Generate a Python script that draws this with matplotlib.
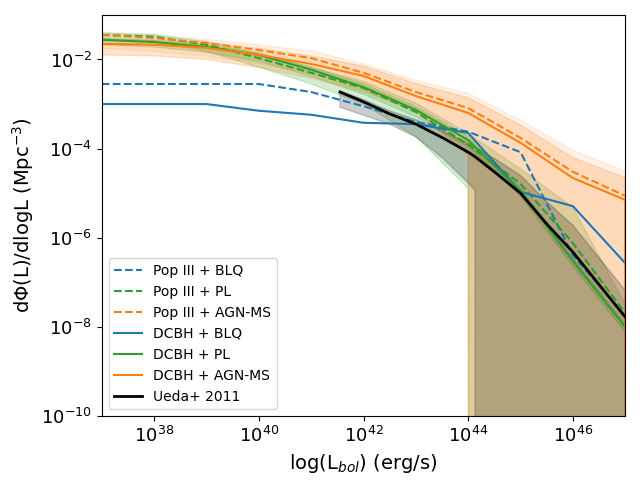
import numpy as np
import matplotlib
matplotlib.use("Agg")
import matplotlib.pyplot as plt
from matplotlib.ticker import NullLocator

# log10 of luminosity grid used by the models
logL = [37, 38, 39, 40, 41, 42, 43, 44, 45, 46, 47]
logL_ext = [37, 38, 39, 40, 41, 42, 43, 44, 45, 46, 47, 48]
NO = -np.inf  # band reaches zero

# log10 of dPhi/dlogL for each model
popIII_blq = [-2.55, -2.55, -2.55, -2.55, -2.73, -3.05, -3.40, -3.62, -4.08, -6.39, -7.75]
popIII_pl = [-1.45, -1.49, -1.67, -1.97, -2.30, -2.64, -3.18, -3.91, -4.79, -6.12, -7.69]
popIII_agn = [-1.45, -1.52, -1.63, -1.79, -1.97, -2.30, -2.73, -3.09, -3.76, -4.52, -5.06]
dcbh_blq = [-3.0, -3.0, -3.0, -3.15, -3.24, -3.42, -3.45, -3.65, -4.97, -5.29, -6.57]
dcbh_pl = [-1.56, -1.61, -1.72, -1.90, -2.23, -2.62, -3.13, -3.81, -4.95, -6.52, -8.0]
dcbh_agn = [-1.65, -1.67, -1.74, -1.90, -2.10, -2.37, -2.82, -3.20, -3.87, -4.66, -5.15, NO]

# scatter bands (log10)
popIII_pl_hi = [-1.40, -1.44, -1.60, -1.87, -2.18, -2.49, -2.98, -3.66, -4.45, -5.32, -7.49]
popIII_pl_lo = [-1.55, -1.59, -1.82, -2.17, -2.55, -3.00, -3.73, -4.89, NO, NO, NO]
dcbh_pl_hi = [-1.51, -1.56, -1.66, -1.84, -2.16, -2.54, -3.05, -3.73, -4.88, -6.45, -7.93]
dcbh_pl_lo = [-1.66, -1.71, -1.83, -2.03, -2.37, -2.77, -3.28, -3.95, -5.07, -6.64, -8.12]
popIII_agn_hi = [-1.40, -1.46, -1.55, -1.67, -1.81, -2.10, -2.47, -2.76, -3.36, -4.04, -4.50]
popIII_agn_lo = [-1.75, -1.82, -1.93, -2.09, -2.32, -2.70, -3.18, -4.09, NO, NO, NO]
dcbh_agn_hi = [-1.55, -1.57, -1.62, -1.75, -1.92, -2.15, -2.54, -2.86, -3.47, -4.20, -4.65, NO]
dcbh_agn_lo = [-1.90, -1.92, -2.00, -2.18, -2.42, -2.72, -3.17, -4.15, NO, NO, NO, NO]

# Ueda+ 2011 XLF
ueda_logL = [41.55, 42, 42.5, 43, 43.5, 44, 44.13, 44.5, 45, 45.5, 46, 46.5, 47]
ueda = [-2.73, -2.95, -3.22, -3.45, -3.75, -4.08, -4.18, -4.52, -5.0, -5.69, -6.32, -7.05, -7.78]
ueda_hi = [-2.70, -2.90, -3.15, -3.35, -3.60, -3.88, -3.96, -4.22, -4.60, -5.19, -5.72, -6.45, -7.18]
ueda_lo = [-3.07, -3.25, -3.45, -3.74, -4.20, -4.77, -4.93, NO, NO, NO, NO, NO, NO]

xticks = [38, 40, 42, 44, 46]


def p(a):
    return np.power(10.0, np.array(a, dtype=float))


fig, ax = plt.subplots(figsize=(6.4, 4.8))
fig.subplots_adjust(left=0.159, right=0.977, top=0.969, bottom=0.133)

ax.fill_between(p(logL), p(popIII_pl_lo), p(popIII_pl_hi), color='C2', alpha=0.2)
ax.fill_between(p(logL), p(popIII_agn_lo), p(popIII_agn_hi), color='C1', alpha=0.1)
ax.fill_between(p(logL), p(dcbh_pl_lo), p(dcbh_pl_hi), color='C2', alpha=0.2)
ax.fill_between(p(logL_ext), p(dcbh_agn_lo), p(dcbh_agn_hi), color='C1', alpha=0.2)
ax.fill_between(p(ueda_logL), p(ueda_lo), p(ueda_hi), color='k', alpha=0.2)

ax.plot(p(logL), p(popIII_blq), '--', color='C0', label='Pop III + BLQ')
ax.plot(p(logL), p(popIII_pl), '--', color='C2', label='Pop III + PL')
ax.plot(p(logL), p(popIII_agn), '--', color='C1', label='Pop III + AGN-MS')
ax.plot(p(logL), p(dcbh_blq), '-', color='C0', label='DCBH + BLQ')
ax.plot(p(logL), p(dcbh_pl), '-', color='C2', label='DCBH + PL')
ax.plot(p(logL_ext), p(dcbh_agn), '-', color='C1', label='DCBH + AGN-MS')
ax.plot(p(ueda_logL), p(ueda), '-', color='k', lw=2, label='Ueda+ 2011')

ax.set_xscale('log')
ax.set_yscale('log')
ax.set_xlim(1e37, 1e47)
ax.set_ylim(1e-10, 1e-1)
ax.set_xticks(p(xticks))
ax.xaxis.set_minor_locator(NullLocator())
ax.yaxis.set_minor_locator(NullLocator())
ax.tick_params(labelsize=13)
ax.set_xlabel(r'log(L$_{bol}$) (erg/s)', fontsize=14)
ax.set_ylabel(r'd$\Phi$(L)/dlogL (Mpc$^{-3}$)', fontsize=14)
ax.legend(loc='lower left', fontsize=10)
plt.savefig('out.png', dpi=100)
